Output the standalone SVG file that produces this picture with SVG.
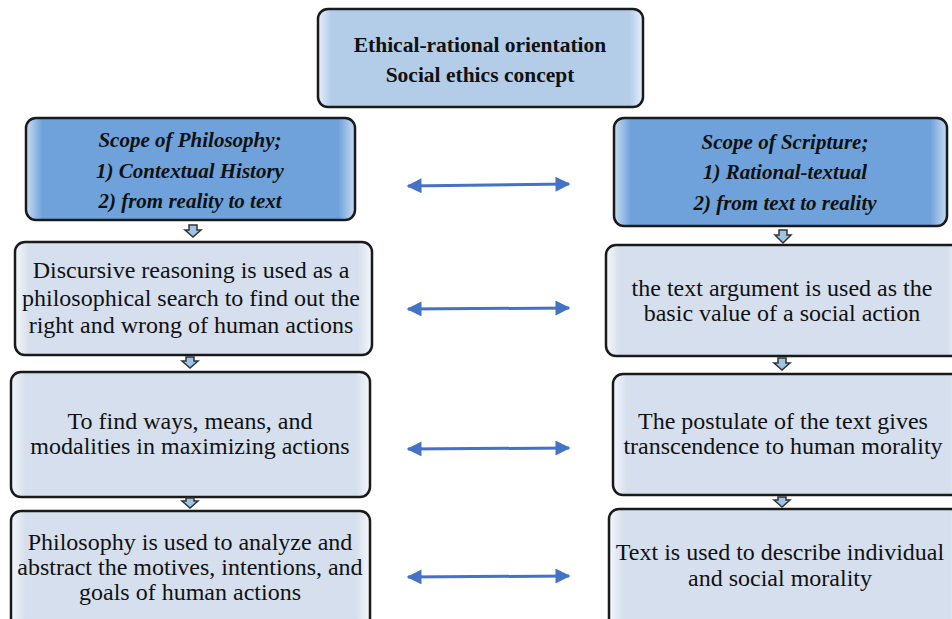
<svg xmlns="http://www.w3.org/2000/svg" width="952" height="619" viewBox="0 0 952 619">
<defs>
<linearGradient id="gTop" x1="0" y1="0" x2="1" y2="0">
<stop offset="0" stop-color="#e8f0fa"/><stop offset="0.04" stop-color="#b3cde9"/><stop offset="0.96" stop-color="#b3cde9"/><stop offset="1" stop-color="#e8f0fa"/>
</linearGradient>
<linearGradient id="gMid" x1="0" y1="0" x2="1" y2="0">
<stop offset="0" stop-color="#c9ddf3"/><stop offset="0.05" stop-color="#6fa2da"/><stop offset="0.95" stop-color="#6fa2da"/><stop offset="1" stop-color="#c9ddf3"/>
</linearGradient>
<linearGradient id="gLight" x1="0" y1="0" x2="1" y2="0">
<stop offset="0" stop-color="#f4f7fb"/><stop offset="0.04" stop-color="#d6dfed"/><stop offset="0.96" stop-color="#d6dfed"/><stop offset="1" stop-color="#f4f7fb"/>
</linearGradient>
<marker id="ah" viewBox="0 0 10 10" refX="9" refY="5" markerWidth="5.5" markerHeight="5" orient="auto-start-reverse" markerUnits="strokeWidth">
<path d="M0,0 L10,5 L0,10 z" fill="#4472c4"/>
</marker>
<style>
.box{stroke:#1a1a1a;stroke-width:2.5}
.top{fill:url(#gTop)}
.mid{fill:url(#gMid)}
.light{fill:url(#gLight)}
.tb,.ti,.tr{fill:#111;text-anchor:middle}
.tb{font-weight:bold;font-size:21.5px}
.ti{font-weight:bold;font-style:italic;font-size:21px}
.tr{font-size:24px}
.dbl{stroke:#4472c4;stroke-width:3;fill:none;marker-start:url(#ah);marker-end:url(#ah)}
.down{fill:#9dc3e6;stroke:#333;stroke-width:1.5}
</style>
</defs>

<g id="top" font-family="Liberation Serif, serif">
<rect class="box top" x="318" y="9" width="325" height="98" rx="10"/>
<text class="tb" x="480" y="52">Ethical-rational orientation</text>
<text class="tb" x="480" y="82">Social ethics concept</text>
</g>

<g id="scope-philosophy" font-family="Liberation Serif, serif">
<rect class="box mid" x="26" y="118" width="329" height="102" rx="10"/>
<text class="ti" x="190" y="147">Scope of Philosophy;</text>
<text class="ti" x="190" y="178">1) Contextual History</text>
<text class="ti" x="190" y="208">2) from reality to text</text>
</g>

<g id="scope-scripture" font-family="Liberation Serif, serif">
<rect class="box mid" x="614" y="118" width="333" height="108" rx="10"/>
<text class="ti" x="785" y="149">Scope of Scripture;</text>
<text class="ti" x="785" y="179">1) Rational-textual</text>
<text class="ti" x="785" y="210">2) from text to reality</text>
</g>

<g id="left-2" font-family="Liberation Serif, serif">
<rect class="box light" x="15" y="242" width="357" height="113" rx="10"/>
<text class="tr" x="191" y="278">Discursive reasoning is used as a</text>
<text class="tr" x="191" y="306">philosophical search to find out the</text>
<text class="tr" x="191" y="333">right and wrong of human actions</text>
</g>

<g id="right-2" font-family="Liberation Serif, serif">
<rect class="box light" x="606" y="245" width="355" height="111" rx="10"/>
<text class="tr" x="782" y="296">the text argument is used as the</text>
<text class="tr" x="782" y="321">basic value of a social action</text>
</g>

<g id="left-3" font-family="Liberation Serif, serif">
<rect class="box light" x="11" y="372" width="359" height="125" rx="10"/>
<text class="tr" x="190" y="429">To find ways, means, and</text>
<text class="tr" x="190" y="454">modalities in maximizing actions</text>
</g>

<g id="right-3" font-family="Liberation Serif, serif">
<rect class="box light" x="613" y="374" width="350" height="121" rx="10"/>
<text class="tr" x="783" y="429">The postulate of the text gives</text>
<text class="tr" x="783" y="454">transcendence to human morality</text>
</g>

<g id="left-4" font-family="Liberation Serif, serif">
<rect class="box light" x="11" y="511" width="359" height="120" rx="10"/>
<text class="tr" x="190" y="550">Philosophy is used to analyze and</text>
<text class="tr" x="190" y="575">abstract the motives, intentions, and</text>
<text class="tr" x="190" y="600">goals of human actions</text>
</g>

<g id="right-4" font-family="Liberation Serif, serif">
<rect class="box light" x="609" y="509" width="355" height="120" rx="10"/>
<text class="tr" x="780" y="560">Text is used to describe individual</text>
<text class="tr" x="780" y="586">and social morality</text>
</g>

<g id="connectors">
<line class="dbl" x1="408" y1="186" x2="569" y2="184"/>
<line class="dbl" x1="408" y1="309" x2="569" y2="308"/>
<line class="dbl" x1="408" y1="449" x2="569" y2="448"/>
<line class="dbl" x1="408" y1="577" x2="569" y2="576"/>
<path class="down" d="M189,225 h8 v5 h4 l-8,7 l-8,-7 h4 z"/>
<path class="down" d="M186,357 h8 v4 h4 l-8,7 l-8,-7 h4 z"/>
<path class="down" d="M186,498 h8 v3 h4 l-8,7 l-8,-7 h4 z"/>
<path class="down" d="M779,230 h8 v5 h4 l-8,8 l-8,-8 h4 z"/>
<path class="down" d="M778,358 h8 v5 h4 l-8,7 l-8,-7 h4 z"/>
<path class="down" d="M778,497 h8 v3 h4 l-8,7 l-8,-7 h4 z"/>
</g>
</svg>
